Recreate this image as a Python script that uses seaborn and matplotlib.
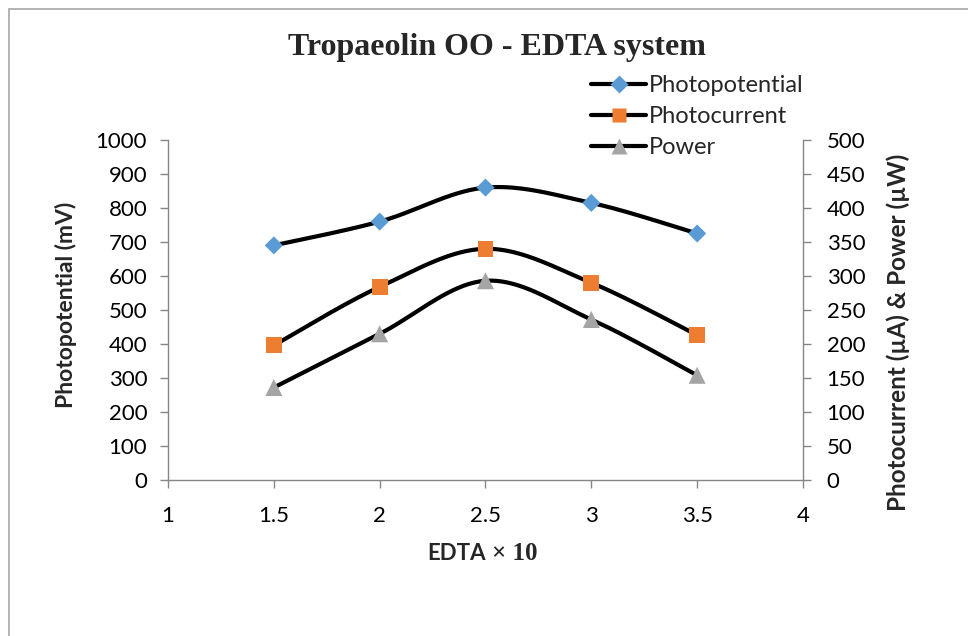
import numpy as np
import matplotlib
matplotlib.use("Agg")
import matplotlib.pyplot as plt
import seaborn as sns
from matplotlib.lines import Line2D
from matplotlib.patches import Rectangle

# ---- data ----
edta = [1.5, 2.0, 2.5, 3.0, 3.5]
photopotential = [690, 760, 860, 815, 725]   # mV (left axis)
photocurrent = [198, 284, 340, 290, 213]     # uA (right axis)
power = [136, 215, 293, 236, 154]            # uW (right axis)
series_names = ["Photopotential", "Photocurrent", "Power"]
x_ticks = [1, 1.5, 2, 2.5, 3, 3.5, 4]
x_tick_labels = ["1", "1.5", "2", "2.5", "3", "3.5", "4"]
left_ticks = list(range(0, 1001, 100))
right_ticks = list(range(0, 501, 50))

BLUE, ORANGE, GRAY = "#5B9BD5", "#ED7D31", "#A5A5A5"
AXC = "#868686"


def smooth(xs, ys, n=40):
    """Excel-style smoothed line (Catmull-Rom Bezier) through the data points."""
    xs = np.asarray(xs, float)
    ys = np.asarray(ys, float)
    m = len(xs)
    t = np.linspace(0, 1, n)
    outx, outy = [], []
    for i in range(m - 1):
        i0 = max(i - 1, 0)
        i3 = min(i + 2, m - 1)
        p0 = np.array([xs[i], ys[i]])
        p3 = np.array([xs[i + 1], ys[i + 1]])
        c1 = p0 + (np.array([xs[i + 1], ys[i + 1]]) - np.array([xs[i0], ys[i0]])) / 6
        c2 = p3 - (np.array([xs[i3], ys[i3]]) - np.array([xs[i], ys[i]])) / 6
        b = ((1 - t) ** 3)[:, None] * p0 + (3 * (1 - t) ** 2 * t)[:, None] * c1 \
            + (3 * (1 - t) * t ** 2)[:, None] * c2 + (t ** 3)[:, None] * p3
        outx.extend(b[:, 0])
        outy.extend(b[:, 1])
    return np.array(outx), np.array(outy)


sns.set_theme(style="white")
plt.rcParams["font.family"] = ["Lato", "DejaVu Sans"]

fig = plt.figure(figsize=(9.68, 6.36), dpi=100)
ax = fig.add_axes([168 / 968, 1 - 480 / 636, (803 - 168) / 968, 340 / 636])
ax2 = ax.twinx()

# curves
for a, ys in [(ax, photopotential), (ax2, photocurrent), (ax2, power)]:
    sx, sy = smooth(edta, ys)
    sns.lineplot(x=sx, y=sy, ax=a, color="black", lw=3, sort=False,
                 estimator=None, zorder=2)

sns.scatterplot(x=edta, y=photopotential, ax=ax, marker="D", s=85,
                color=BLUE, edgecolor="none", zorder=3)
sns.scatterplot(x=edta, y=photocurrent, ax=ax2, marker="s", s=130,
                color=ORANGE, edgecolor="none", zorder=3)
sns.scatterplot(x=edta, y=power, ax=ax2, marker="^", s=150,
                color=GRAY, edgecolor="none", zorder=3)

ax.set_xlim(1, 4)
ax.set_ylim(0, 1000)
ax2.set_ylim(0, 500)
ax.set_xticks(x_ticks)
ax.set_xticklabels(x_tick_labels)
ax.set_yticks(left_ticks)
ax2.set_yticks(right_ticks)
ax.set_xlabel("")
ax.set_ylabel("")
ax2.set_ylabel("")

for s in ["top", "right"]:
    ax.spines[s].set_visible(False)
for s in ["top", "left", "bottom"]:
    ax2.spines[s].set_visible(False)
for a in (ax, ax2):
    for sp in a.spines.values():
        sp.set_color(AXC)
        sp.set_linewidth(1)

ax.tick_params(axis="y", direction="out", length=6, width=1, color=AXC,
               labelsize=16, pad=9, left=True, labelcolor="black")
ax.tick_params(axis="x", direction="out", length=6, width=1, color=AXC,
               labelsize=16, pad=13, bottom=True, labelcolor="black")
ax2.tick_params(axis="y", direction="out", length=6, width=1, color=AXC,
                labelsize=16, pad=11, right=True, labelcolor="black")

# texts
fig.text(497 / 968, 1 - 48 / 636, "Tropaeolin OO - EDTA system",
         family=["Liberation Serif", "DejaVu Serif"], weight="bold", size=23,
         ha="center", va="center")
fig.text(66 / 968, 1 - 305 / 636, "Photopotential (mV)", weight="bold",
         size=16.5, rotation=90, ha="center", va="center")
fig.text(898 / 968, 1 - 332 / 636, "Photocurrent (µA) & Power (µW)",
         weight="bold", size=17.5, rotation=90, ha="center", va="center")
fig.text(486 / 968, 1 - 553 / 636, "EDTA", weight="bold", size=16,
         ha="right", va="center")
fig.text(492 / 968, 1 - 553 / 636, "× 10", weight="bold", size=18,
         family=["Liberation Serif", "DejaVu Serif"], ha="left", va="center")

# legend
handles = [
    Line2D([], [], color="black", lw=3, marker="D", markersize=9,
           markerfacecolor=BLUE, markeredgecolor="none"),
    Line2D([], [], color="black", lw=3, marker="s", markersize=10,
           markerfacecolor=ORANGE, markeredgecolor="none"),
    Line2D([], [], color="black", lw=3, marker="^", markersize=11,
           markerfacecolor=GRAY, markeredgecolor="none"),
]
fig.legend(handles, series_names, loc="upper left",
           bbox_to_anchor=(591 / 968, 1 - 75 / 636), frameon=False,
           fontsize=17, handlelength=2.35, handletextpad=0.1,
           labelspacing=0.42, borderpad=0, borderaxespad=0)

# outer border
fig.patches.append(Rectangle((9 / 968, -0.05), 1.1, 1 - 9 / 636 + 0.05,
                             transform=fig.transFigure, fill=False,
                             edgecolor="#A6A6A6", lw=1.2))

fig.savefig("out.png", dpi=100)
